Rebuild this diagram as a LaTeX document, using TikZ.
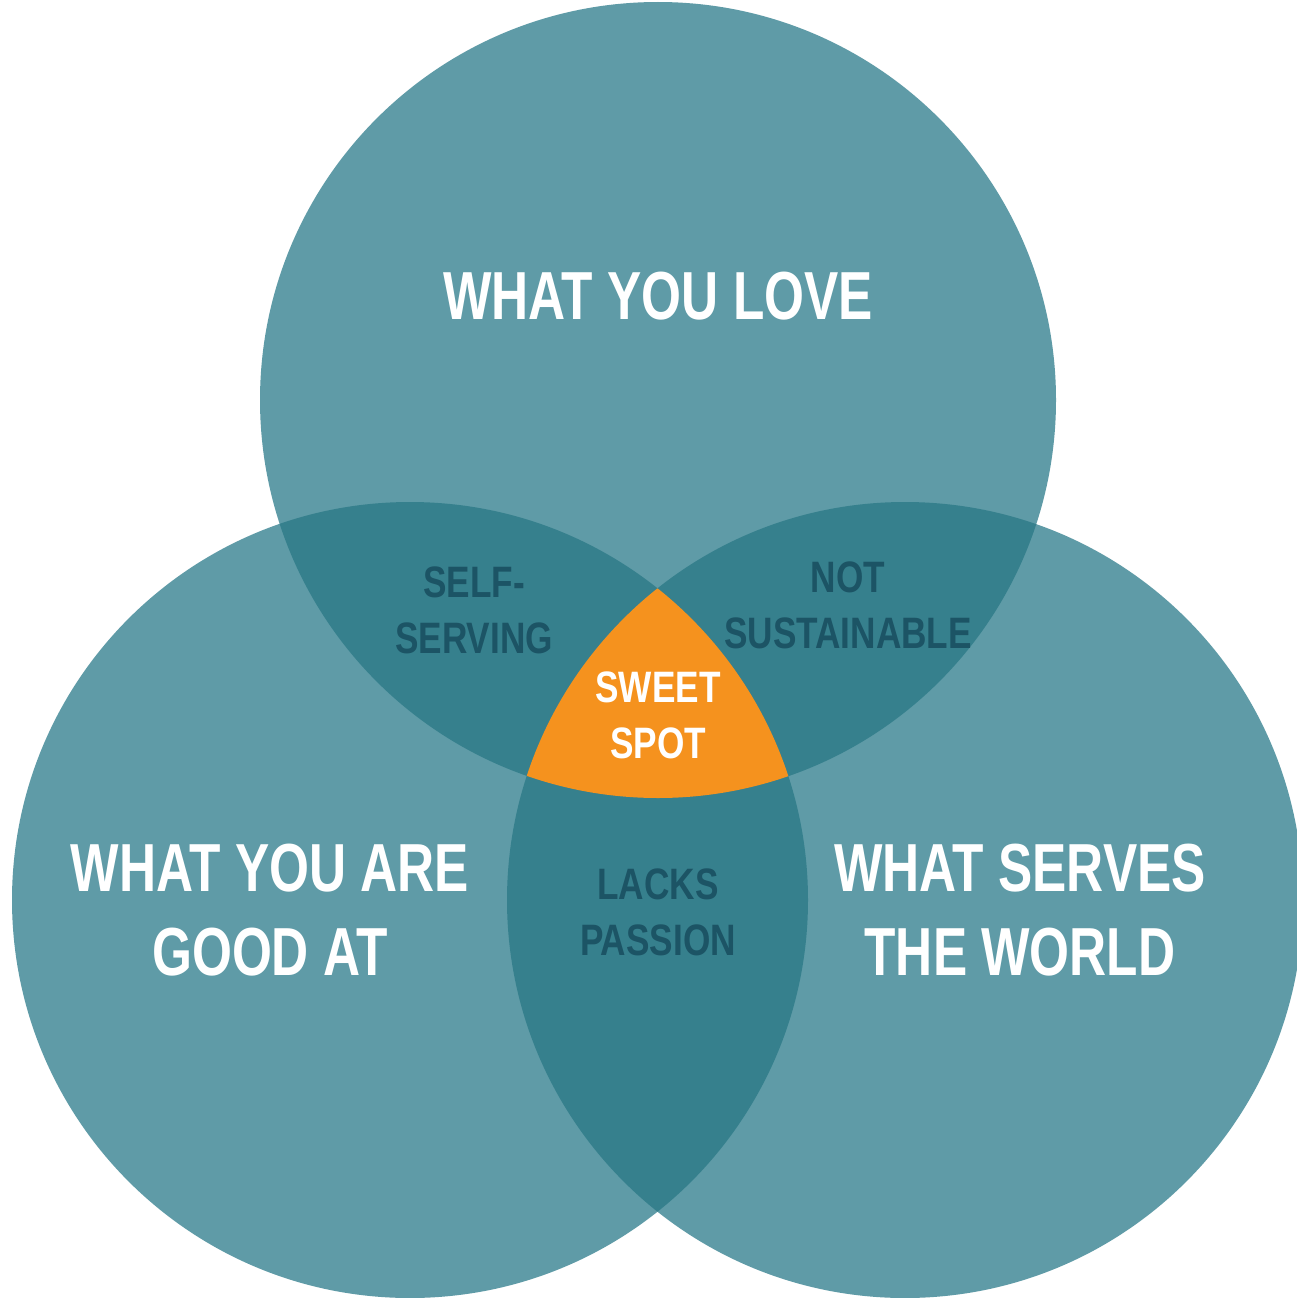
\documentclass[tikz,border=0pt]{standalone}
\usepackage{fontspec}
\newfontfamily\cond{Liberation Sans}[FakeStretch=0.8]
\newfontfamily\condbig{Liberation Sans}[FakeStretch=0.755]
\definecolor{base}{HTML}{5F9BA7}
\definecolor{over}{HTML}{36808D}
\definecolor{dark}{HTML}{1C5465}
\definecolor{sweet}{HTML}{F5921E}
\tikzset{
  biglabel/.style={text=white, align=center, inner sep=0pt, font=\condbig\bfseries\fontsize{68}{84}\selectfont},
  smalllabel/.style={text=dark, align=center, inner sep=0pt, font=\cond\bfseries\fontsize{44}{56}\selectfont},
  sweetlabel/.style={smalllabel, text=white}
}
\begin{document}
\begin{tikzpicture}[x=1pt,y=-1pt]
\useasboundingbox[fill=white] (0,0) rectangle (1297,1298);
\def\top{(658,400) circle[radius=398pt]}
\def\lft{(410,900) circle[radius=398pt]}
\def\rgt{(905,900) circle[radius=398pt]}
\fill[base] \top;
\fill[base] \lft;
\fill[base] \rgt;
\begin{scope}\clip \top; \fill[over] \lft; \fill[over] \rgt; \end{scope}
\begin{scope}\clip \lft; \fill[over] \rgt; \end{scope}
\begin{scope}\clip \top; \clip \lft; \fill[sweet] \rgt; \end{scope}
\node[biglabel] (love) at (658,296) {WHAT YOU LOVE};
\node[biglabel] (good) at (270,910) {WHAT YOU ARE\\GOOD AT};
\node[biglabel] (world) at (1020,910) {WHAT SERVES\\THE WORLD};
\node[smalllabel] (self) at (474,610) {SELF-\\SERVING};
\node[smalllabel] (notsus) at (848,605) {NOT\\SUSTAINABLE};
\node[sweetlabel] (spot) at (658,715) {SWEET\\SPOT};
\node[smalllabel] (lacks) at (658,912) {LACKS\\PASSION};
\end{tikzpicture}
\end{document}
